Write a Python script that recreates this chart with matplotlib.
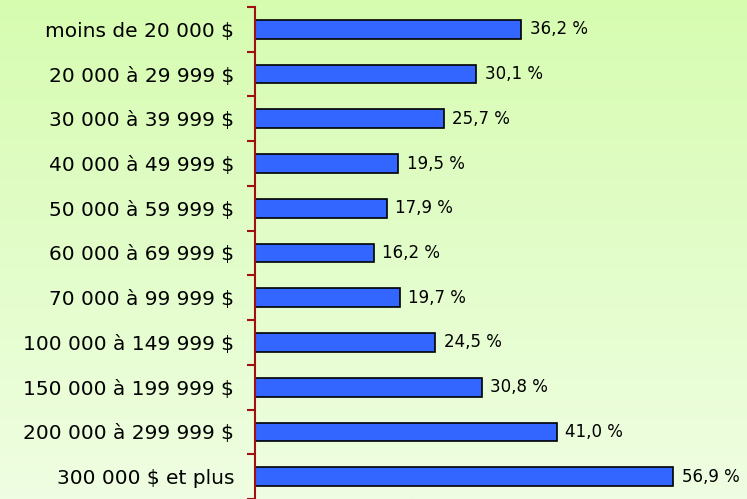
import numpy as np
import matplotlib
matplotlib.use('Agg')
from matplotlib import pyplot as plt
from matplotlib.colors import LinearSegmentedColormap

categories = ['moins de 20 000 $', '20 000 à 29 999 $', '30 000 à 39 999 $',
              '40 000 à 49 999 $', '50 000 à 59 999 $', '60 000 à 69 999 $',
              '70 000 à 99 999 $', '100 000 à 149 999 $', '150 000 à 199 999 $',
              '200 000 à 299 999 $', '300 000 $ et plus']
values = [36.2, 30.1, 25.7, 19.5, 17.9, 16.2, 19.7, 24.5, 30.8, 41.0, 56.9]
value_labels = ['36,2 %', '30,1 %', '25,7 %', '19,5 %', '17,9 %', '16,2 %',
                '19,7 %', '24,5 %', '30,8 %', '41,0 %', '56,9 %']

plt.rcParams['font.family'] = ['DejaVu Sans']

fig = plt.figure(figsize=(7.47, 4.99), dpi=100)

# Background gradient (greener at the top, paler at the bottom)
bg = fig.add_axes([0, 0, 1, 1], zorder=-1)
cmap = LinearSegmentedColormap.from_list('bg', ['#d6fcb0', '#effee2'])
grad = np.linspace(0, 1, 256).reshape(-1, 1)
bg.imshow(grad, aspect='auto', cmap=cmap, extent=[0, 1, 0, 1], origin='upper')
bg.axis('off')

ax = fig.add_axes([255 / 747, 0, 1 - 255 / 747, 1 - 7 / 499])
ax.set_facecolor('none')

y = np.arange(len(categories))
ax.barh(y, values, height=0.42, color='#3366ff', edgecolor='black', linewidth=1.2)

for yi, v, lab in zip(y, values, value_labels):
    ax.annotate(lab, (v, yi), xytext=(6, 0), textcoords='offset points',
                va='center', ha='left', fontsize=12, color='black')

ax.set_xlim(0, 66.9)
ax.set_ylim(len(categories) - 0.5, -0.5)

for side in ['top', 'right', 'bottom']:
    ax.spines[side].set_visible(False)
ax.spines['left'].set_color('#a01010')
ax.spines['left'].set_linewidth(1.5)

ax.set_xticks([])
ax.set_yticks(y)
ax.set_yticklabels(categories, fontsize=14.5)
ax.tick_params(axis='y', which='major', length=0, pad=15)
ax.set_yticks(np.arange(len(categories) + 1) - 0.5, minor=True)
ax.tick_params(axis='y', which='minor', length=6, width=1.5, color='#a01010')

fig.savefig('out.png', dpi=100)
